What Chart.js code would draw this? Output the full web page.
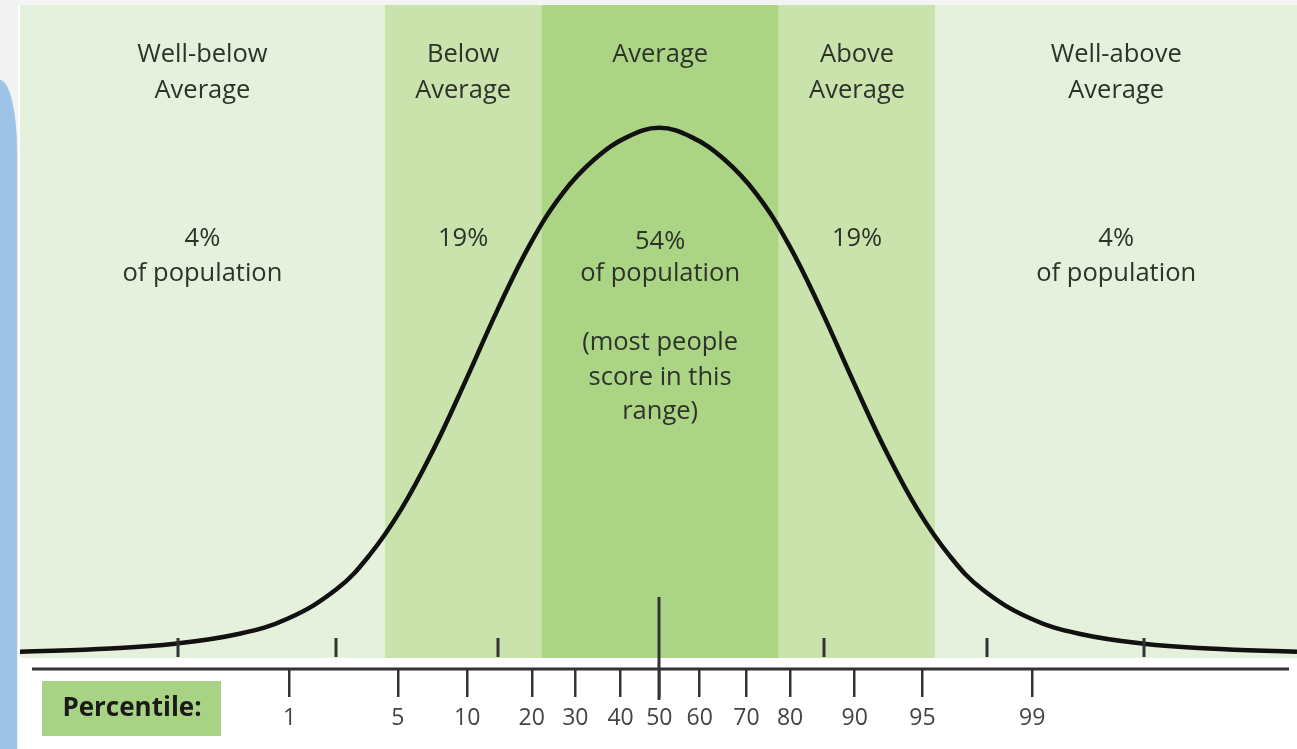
<!DOCTYPE html>
<html>
<head>
<meta charset="utf-8">
<script src="https://cdn.jsdelivr.net/npm/chart.js@4"></script>
<style>
  html, body { margin: 0; padding: 0; background: #ffffff; overflow: hidden; }
  #topStrip { position: absolute; left: 0; top: 0; width: 1297px; height: 5px; background: #f4f4f4; }
  #leftStrip { position: absolute; left: 0; top: 0; width: 18px; height: 749px; background: #f2f2f2; }
  #blueShape { position: absolute; left: 0; top: 80px; width: 17px; height: 669px; background: #9dc3e7;
               border-top-right-radius: 17px 70px; }
  #wrap { position: absolute; left: 0; top: 0; width: 1297px; height: 749px; }
</style>
</head>
<body>
<div id="topStrip"></div>
<div id="leftStrip"></div>
<div id="blueShape"></div>
<div id="wrap"><canvas id="bellChart"></canvas></div>
<script>
// Curva normal (x en desviaciones estándar, y en altura relativa)
const curveZ = [-3.96, -3.4, -3.0, -2.6, -2.3, -2.0, -1.8, -1.6, -1.4, -1.2, -1.0, -0.8, -0.6, -0.4, -0.2, 0,
                0.2, 0.4, 0.6, 0.8, 1.0, 1.2, 1.4, 1.6, 1.8, 2.0, 2.3, 2.6, 3.0, 3.4, 3.95];
const curveY = [2.6, 3.1, 3.8, 5.3, 7.6, 12.0, 17.0, 24.0, 33.0, 43.4, 54.2, 64.0, 71.6, 76.8, 80.1, 81.5,
                80.1, 76.8, 71.6, 64.0, 54.2, 43.4, 33.0, 24.0, 17.0, 12.0, 7.6, 5.3, 3.8, 3.1, 2.6];

// Bandas
const bandEdges = [-3.96, -1.70, -0.73, 0.74, 1.71, 3.95];
const bandColors = ['#e5f1dc', '#cae2ac', '#acd485', '#cae2ac', '#e5f1dc'];
const bandTitles = [['Well-below', 'Average'], ['Below', 'Average'], ['Average'], ['Above', 'Average'], ['Well-above', 'Average']];
const bandShares = ['4%', '19%', '54%', '19%', '4%'];
const bandNotes = [['of population'], [], ['of population', '', '(most people', 'score in this', 'range)'], [], ['of population']];

// Marcas de desviación estándar sobre la línea base
const sdMarks = [-2.98, -2.00, -1.00, 0, 1.02, 2.03, 3.00];

// Percentiles (eje inferior)
const percentileZ = [-2.29, -1.62, -1.19, -0.79, -0.52, -0.24, 0, 0.25, 0.54, 0.81, 1.21, 1.63, 2.31];
const percentileLabels = ['1', '5', '10', '20', '30', '40', '50', '60', '70', '80', '90', '95', '99'];

const FONT = "'Open Sans', 'Noto Sans', sans-serif";

const bandsPlugin = {
  id: 'bands',
  beforeDatasetsDraw(chart) {
    const { ctx, chartArea, scales: { x } } = chart;
    const bandBottom = chartArea.bottom - 11;
    ctx.save();
    for (let i = 0; i < bandColors.length; i++) {
      const x0 = x.getPixelForValue(bandEdges[i]);
      const x1 = x.getPixelForValue(bandEdges[i + 1]);
      ctx.fillStyle = bandColors[i];
      ctx.fillRect(x0, chartArea.top, x1 - x0, bandBottom - chartArea.top);
    }
    // textos
    ctx.fillStyle = '#2d332b';
    ctx.textAlign = 'center';
    ctx.textBaseline = 'alphabetic';
    ctx.font = '25.5px ' + FONT;
    for (let i = 0; i < bandTitles.length; i++) {
      const cx = (x.getPixelForValue(bandEdges[i]) + x.getPixelForValue(bandEdges[i + 1])) / 2;
      bandTitles[i].forEach((t, j) => ctx.fillText(t, cx, 62 + j * 36));
      const shareY = i === 2 ? 249 : 246;
      ctx.fillText(bandShares[i], cx, shareY);
      bandNotes[i].forEach((t, j) => ctx.fillText(t, cx, 281 + j * 34.5));
    }
    ctx.restore();
  },
  afterDatasetsDraw(chart) {
    const { ctx, chartArea, scales: { x } } = chart;
    ctx.save();
    ctx.strokeStyle = '#333';
    ctx.lineWidth = 3;
    sdMarks.forEach(v => {
      const px = Math.round(x.getPixelForValue(v));
      ctx.beginPath();
      if (v === 0) {
        ctx.moveTo(px, 597);
        ctx.lineTo(px, 700);
      } else {
        ctx.moveTo(px, 638);
        ctx.lineTo(px, 657);
      }
      ctx.stroke();
    });
    // línea del eje
    ctx.beginPath();
    ctx.moveTo(chartArea.left + 12, chartArea.bottom);
    ctx.lineTo(chartArea.right - 8, chartArea.bottom);
    ctx.stroke();
    // etiqueta "Percentile:"
    ctx.fillStyle = '#a9d384';
    ctx.fillRect(42, 681, 179, 55);
    ctx.fillStyle = '#1a1a1a';
    ctx.font = 'bold 26px ' + FONT;
    ctx.textAlign = 'center';
    ctx.textBaseline = 'middle';
    ctx.fillText('Percentile:', 132, 709);
    ctx.restore();
  }
};

const ctx = document.getElementById('bellChart').getContext('2d');
const bellChart = new Chart(ctx, {
  type: 'line',
  data: {
    datasets: [{
      data: curveZ.map((z, i) => ({ x: z, y: curveY[i] })),
      borderColor: '#111',
      borderWidth: 4.5,
      pointRadius: 0,
      tension: 0.4,
      fill: false
    }]
  },
  options: {
    responsive: true,
    maintainAspectRatio: false,
    animation: false,
    layout: { padding: { left: 20, top: 5, right: 0, bottom: 0 } },
    plugins: { legend: { display: false }, tooltip: { enabled: false } },
    scales: {
      x: {
        type: 'linear',
        min: -3.96,
        max: 3.95,
        afterBuildTicks(axis) {
          axis.ticks = percentileZ.map(v => ({ value: v }));
        },
        afterFit(axis) { axis.height = 80; },
        border: { display: false },
        grid: { display: true, drawOnChartArea: false, drawTicks: true, tickLength: 28, color: '#333', lineWidth: 2.5 },
        ticks: {
          autoSkip: false,
          maxRotation: 0,
          padding: 8,
          color: '#444',
          font: { family: FONT, size: 23 },
          callback: function(value, index) {
            return percentileLabels[index];
          }
        }
      },
      y: {
        display: false,
        min: 0,
        max: 100
      }
    }
  },
  plugins: [bandsPlugin]
});
</script>
</body>
</html>
